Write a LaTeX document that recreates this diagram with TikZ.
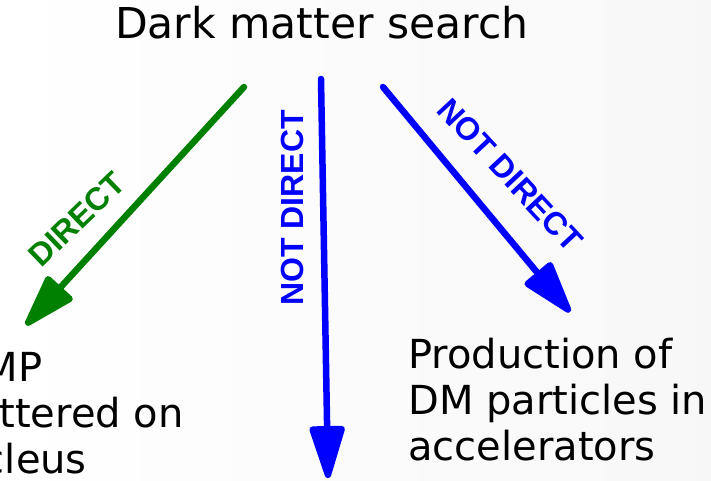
\documentclass[tikz,border=0pt]{standalone}
\usepackage{fontspec}
\setmainfont{DejaVu Sans}
\newfontfamily\lblfont{Liberation Sans}
\usetikzlibrary{arrows.meta}
\definecolor{dmgreen}{RGB}{0,128,0}
\definecolor{dmblue}{RGB}{0,0,255}
\tikzset{
  bigtext/.style={inner sep=0pt, align=left, anchor=north west,
    font=\fontsize{40}{46}\selectfont},
  arrowline/.style={line width=6.5pt, line cap=round,
    -{Triangle[length=60pt, width=36pt, round]}},
  lbl/.style={inner sep=0pt, font=\lblfont\bfseries\fontsize{32}{36}\selectfont},
}
\begin{document}
\begin{tikzpicture}[x=1pt, y=-1pt]
\useasboundingbox (0,0) rectangle (711,481);
\shade[left color=white, right color=black!3] (0,0) rectangle (711,481);
\clip (0,0) rectangle (711,481);

\node[inner sep=0pt, anchor=base west, font=\fontsize{42.5}{46}\selectfont] (title) at (115,39) {Dark matter search};

\node[bigtext] (wimp) at (-68,352) {WIMP\\scattered on\\nucleus};
\node[bigtext] (prod) at (408,338) {Production of\\DM particles in\\accelerators};

\coordinate (g1) at (244,87);
\coordinate (g2) at (26,325);
\coordinate (m1) at (321,79);
\coordinate (m2) at (328,478);
\coordinate (r1) at (383,87);
\coordinate (r2) at (570,312);

\draw[arrowline, draw=dmgreen, fill=dmgreen] (g1) -- (g2);
\draw[arrowline, draw=dmblue, fill=dmblue] (m1) -- (m2);
\draw[arrowline, draw=dmblue, fill=dmblue] (r1) -- (r2);

\node[lbl, text=dmgreen, rotate=44] (ldirect) at (77,219) {DIRECT};
\node[lbl, text=dmblue, rotate=90] (lnotd1) at (292,208) {NOT DIRECT};
\node[lbl, text=dmblue, rotate=-47] (lnotd2) at (510,175) {NOT DIRECT};
\end{tikzpicture}
\end{document}
